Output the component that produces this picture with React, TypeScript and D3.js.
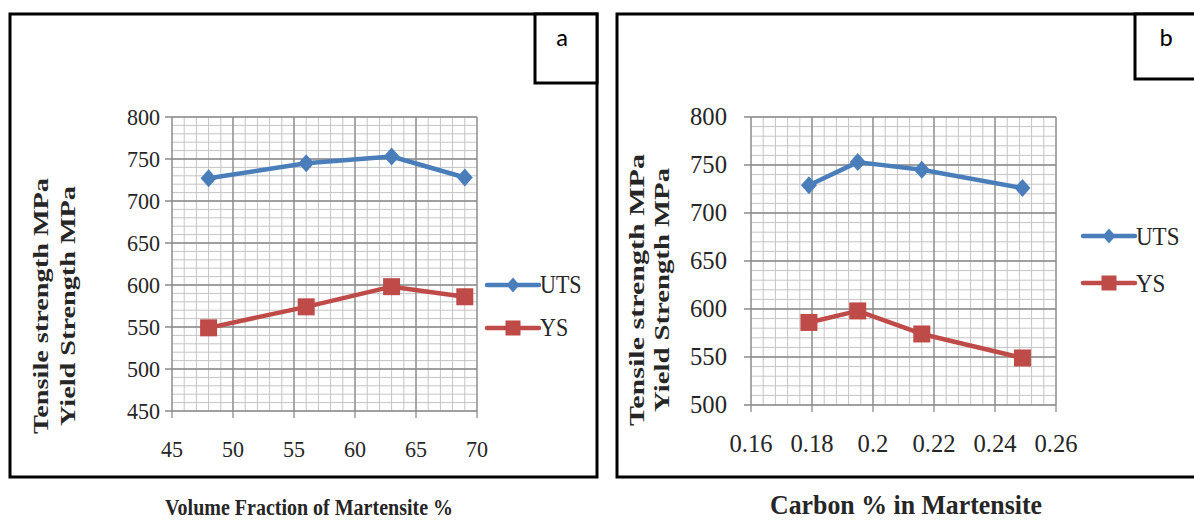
import React from "react";
import * as d3 from "d3";

// ---- data ----
const VOLUME_FRACTION = [48, 56, 63, 69];
const UTS_A = [727, 745, 753, 728];
const YS_A = [549, 574, 598, 586];

const CARBON = [0.179, 0.195, 0.216, 0.249];
const UTS_B = [729, 753, 745, 726];
const YS_B = [586, 598, 574, 549];

const X_TICKS_A = [45, 50, 55, 60, 65, 70];
const Y_TICKS_A = [450, 500, 550, 600, 650, 700, 750, 800];
const X_TICKS_B = [0.16, 0.18, 0.2, 0.22, 0.24, 0.26];
const Y_TICKS_B = [500, 550, 600, 650, 700, 750, 800];

const SERIES_NAMES = ["UTS", "YS"];
const Y_TITLE_LINES = ["Tensile strength MPa", "Yield Strength MPa"];
const BLUE = "#4A7EBB";
const RED = "#BE4B48";
const SERIF = "'Liberation Serif', 'Times New Roman', serif";

type PanelProps = {
  letter: string;
  box: [number, number, number, number];
  letterBox: [number, number, number, number];
  xDomain: [number, number];
  yDomain: [number, number];
  xRange: [number, number];
  yRange: [number, number];
  xTicks: number[];
  yTicks: number[];
  xMinor: number;
  xs: number[];
  uts: number[];
  ys: number[];
  tickFont: number;
  tickScaleX: number;
  tickScaleY: number;
  yLabelRight: number;
  xLabelBaseline: number;
  legendX: number;
  legendY: [number, number];
  legendFont: number;
  yTitleX: [number, number];
  yTitleY: number;
  yTitleLen: [number, number];
  yTitleFont: number;
  xTitle: string;
  xTitleX: number;
  xTitleY: number;
  xTitleLen: number;
  xTitleFont: number;
  xTitleScaleY: number;
};

function diamond(cx: number, cy: number, hw: number, hh: number) {
  return `M${cx},${cy - hh}L${cx + hw},${cy}L${cx},${cy + hh}L${cx - hw},${cy}Z`;
}

function Panel(p: PanelProps) {
  const x = d3.scaleLinear().domain(p.xDomain).range(p.xRange);
  const y = d3.scaleLinear().domain(p.yDomain).range(p.yRange);
  const [x0, x1] = p.xRange;
  const [y0, y1] = p.yRange;
  const minorX = d3.range(p.xDomain[0], p.xDomain[1] + p.xMinor / 2, p.xMinor);
  const minorY = d3.range(p.yDomain[0], p.yDomain[1] + 5, 10);
  const line = d3
    .line<[number, number]>()
    .x((d) => x(d[0]))
    .y((d) => y(d[1]));
  const utsPts = p.xs.map((v, i) => [v, p.uts[i]] as [number, number]);
  const ysPts = p.xs.map((v, i) => [v, p.ys[i]] as [number, number]);
  const [bx, by, bw, bh] = p.box;
  const [lx, ly, lw, lh] = p.letterBox;
  const sq = 8.5;
  const fmtX = d3.format("");
  return (
    <g>
      <rect x={bx} y={by} width={bw} height={bh} fill="#fff" stroke="#000" strokeWidth={3} />
      <rect x={lx} y={ly} width={lw} height={lh} fill="#fff" stroke="#000" strokeWidth={3} />
      <text
        x={lx + lw / 2 - 4}
        y={ly + 32}
        textAnchor="middle"
        fontFamily="Carlito, Lato, 'Open Sans', sans-serif"
        fontSize={25}
        fill="#000"
      >
        {p.letter}
      </text>
      {minorX.map((v, i) => (
        <line key={"mx" + i} x1={x(v)} x2={x(v)} y1={y0} y2={y1} stroke="#c4c4c4" strokeWidth={1} />
      ))}
      {minorY.map((v, i) => (
        <line key={"my" + i} x1={x0} x2={x1} y1={y(v)} y2={y(v)} stroke="#c4c4c4" strokeWidth={1} />
      ))}
      {p.xTicks.map((v, i) => (
        <line key={"Mx" + i} x1={x(v)} x2={x(v)} y1={y0 + 7} y2={y1} stroke="#8a8a8a" strokeWidth={1.3} />
      ))}
      {p.yTicks.map((v, i) => (
        <line key={"My" + i} x1={x0 - 7} x2={x1} y1={y(v)} y2={y(v)} stroke="#8a8a8a" strokeWidth={1.3} />
      ))}
      {p.yTicks.map((v, i) => (
        <text
          key={"yl" + i}
          transform={`translate(${p.yLabelRight},${y(v) + p.tickFont * 0.34 * p.tickScaleY}) scale(${p.tickScaleX},${p.tickScaleY})`}
          textAnchor="end"
          fontFamily={SERIF}
          fontSize={p.tickFont}
          fill="#262626"
        >
          {String(v)}
        </text>
      ))}
      {p.xTicks.map((v, i) => (
        <text
          key={"xl" + i}
          transform={`translate(${x(v)},${p.xLabelBaseline}) scale(${p.tickScaleX},${p.tickScaleY})`}
          textAnchor="middle"
          fontFamily={SERIF}
          fontSize={p.tickFont}
          fill="#262626"
        >
          {fmtX(v)}
        </text>
      ))}
      <path d={line(utsPts) || ""} fill="none" stroke={BLUE} strokeWidth={4.5} strokeLinejoin="round" />
      <path d={line(ysPts) || ""} fill="none" stroke={RED} strokeWidth={4.5} strokeLinejoin="round" />
      {utsPts.map((d, i) => (
        <path key={"um" + i} d={diamond(x(d[0]), y(d[1]), 8, 9)} fill={BLUE} />
      ))}
      {ysPts.map((d, i) => (
        <rect key={"ym" + i} x={x(d[0]) - sq} y={y(d[1]) - sq} width={sq * 2} height={sq * 2} fill={RED} />
      ))}
      {SERIES_NAMES.map((name, i) => {
        const ly2 = p.legendY[i];
        const col = i === 0 ? BLUE : RED;
        const cx = p.legendX + 26;
        return (
          <g key={"lg" + i}>
            <line x1={p.legendX} x2={p.legendX + 52} y1={ly2} y2={ly2} stroke={col} strokeWidth={4.5} strokeLinecap="round" />
            {i === 0 ? (
              <path d={diamond(cx, ly2, 6.5, 7.5)} fill={col} />
            ) : (
              <rect x={cx - 7.5} y={ly2 - 7.5} width={15} height={15} fill={col} />
            )}
            <text
              transform={`translate(${p.legendX + 53},${ly2 + p.legendFont * 0.37}) scale(1,1.1)`}
              fontFamily={SERIF}
              fontSize={p.legendFont}
              fill="#262626"
            >
              {name}
            </text>
          </g>
        );
      })}
      {Y_TITLE_LINES.map((t, i) => (
        <text
          key={"yt" + i}
          transform={`translate(${p.yTitleX[i]},${p.yTitleY}) rotate(-90)`}
          textAnchor="middle"
          dominantBaseline="central"
          fontFamily={SERIF}
          fontWeight="bold"
          fontSize={p.yTitleFont}
          textLength={p.yTitleLen[i]}
          lengthAdjust="spacingAndGlyphs"
          fill="#262626"
        >
          {t}
        </text>
      ))}
      <text
        transform={`translate(${p.xTitleX},${p.xTitleY}) scale(1,${p.xTitleScaleY})`}
        textAnchor="middle"
        fontFamily={SERIF}
        fontWeight="bold"
        fontSize={p.xTitleFont}
        textLength={p.xTitleLen}
        lengthAdjust="spacingAndGlyphs"
        fill="#262626"
      >
        {p.xTitle}
      </text>
    </g>
  );
}

export default function App() {
  return (
    <svg width={1194} height={523} style={{ position: "absolute", left: 0, top: 0, background: "#fff" }}>
      <rect x={0} y={0} width={1194} height={523} fill="#fff" />
      <Panel
        letter="a"
        box={[10, 14, 587, 463]}
        letterBox={[535, 14, 62, 69]}
        xDomain={[45, 70]}
        yDomain={[450, 800]}
        xRange={[172, 477]}
        yRange={[411, 117]}
        xTicks={X_TICKS_A}
        yTicks={Y_TICKS_A}
        xMinor={1}
        xs={VOLUME_FRACTION}
        uts={UTS_A}
        ys={YS_A}
        tickFont={21}
        tickScaleX={1.05}
        tickScaleY={1.12}
        yLabelRight={160}
        xLabelBaseline={457}
        legendX={487}
        legendY={[285, 328]}
        legendFont={22}
        yTitleX={[40, 67]}
        yTitleY={306}
        yTitleLen={[256, 240]}
        yTitleFont={22}
        xTitle="Volume Fraction of Martensite %"
        xTitleX={309}
        xTitleY={515}
        xTitleLen={288}
        xTitleFont={20}
        xTitleScaleY={1.2}
      />
      <Panel
        letter="b"
        box={[617, 14, 600, 463]}
        letterBox={[1135, 14, 70, 65]}
        xDomain={[0.16, 0.26]}
        yDomain={[500, 800]}
        xRange={[751, 1056]}
        yRange={[405, 117]}
        xTicks={X_TICKS_B}
        yTicks={Y_TICKS_B}
        xMinor={0.004}
        xs={CARBON}
        uts={UTS_B}
        ys={YS_B}
        tickFont={22}
        tickScaleX={1.12}
        tickScaleY={1.1}
        yLabelRight={727}
        xLabelBaseline={452}
        legendX={1083}
        legendY={[236, 283]}
        legendFont={23}
        yTitleX={[636, 661]}
        yTitleY={290}
        yTitleLen={[272, 244]}
        yTitleFont={22}
        xTitle="Carbon % in Martensite"
        xTitleX={906}
        xTitleY={514}
        xTitleLen={272}
        xTitleFont={22}
        xTitleScaleY={1.2}
      />
    </svg>
  );
}
